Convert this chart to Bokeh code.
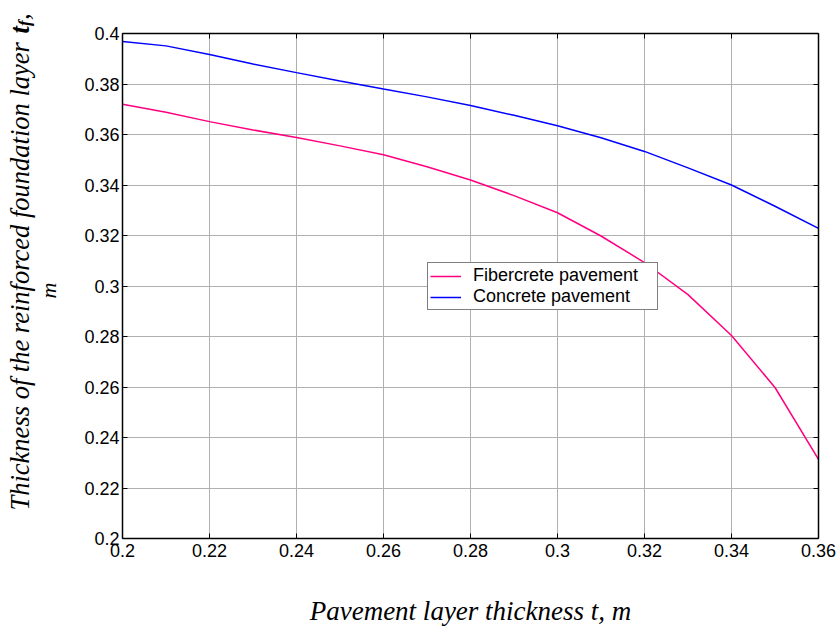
import math
from bokeh.plotting import figure
from bokeh.layouts import row, column
from bokeh.models import (FixedTicker, LinearAxis, Label, Legend, LegendItem,
                          Range1d)
from bokeh.embed import file_html
from bokeh.resources import INLINE

# ---- data ----
t_pavement = [0.20, 0.21, 0.22, 0.23, 0.24, 0.25, 0.26, 0.27, 0.28,
              0.29, 0.30, 0.31, 0.32, 0.33, 0.34, 0.35, 0.36]
fibercrete = [0.372, 0.3688, 0.3651, 0.3618, 0.3588, 0.3555, 0.352, 0.3472,
              0.342, 0.3358, 0.329, 0.3198, 0.3093, 0.2966, 0.2804, 0.2598,
              0.2313]
concrete = [0.3968, 0.3951, 0.3917, 0.3879, 0.3845, 0.3812, 0.378, 0.3749,
            0.3715, 0.3676, 0.3635, 0.3587, 0.3533, 0.3468, 0.340, 0.3316,
            0.3228]

x_ticks = [0.20, 0.22, 0.24, 0.26, 0.28, 0.30, 0.32, 0.34, 0.36]
x_tick_labels = ["0.2", "0.22", "0.24", "0.26", "0.28", "0.3", "0.32", "0.34", "0.36"]
y_ticks = [0.20, 0.22, 0.24, 0.26, 0.28, 0.30, 0.32, 0.34, 0.36, 0.38, 0.40]
y_tick_labels = ["0.2", "0.22", "0.24", "0.26", "0.28", "0.3", "0.32", "0.34",
                 "0.36", "0.38", "0.4"]

series_names = ["Fibercrete pavement", "Concrete pavement"]
series_colors = ["#ff0080", "#0000ff"]

x_label_text = "Pavement layer thickness t, m"
y_label_main = "Thickness of the reinforced foundation layer "
y_label_var = "t"
y_label_sub = "f"
y_label_comma = ","
y_label_unit = "m"

W, H = 837, 626
LW = 70   # narrow figure on the left for the vertical title
BH = 40   # strip at the bottom for the horizontal title
PH = H - BH

p = figure(width=W - LW, height=PH, title=None,
           x_range=Range1d(0.2, 0.36), y_range=Range1d(0.2, 0.4),
           output_backend="svg", toolbar_location=None,
           min_border_left=122 - LW, min_border_right=19,
           min_border_top=33, min_border_bottom=PH - 538)
p.frame_align = False
p.outline_line_color = None
p.background_fill_color = "white"
p.border_fill_color = "white"

xt = FixedTicker(ticks=x_ticks)
yt = FixedTicker(ticks=y_ticks)

def style_axis(ax, ticker, overrides):
    ax.ticker = ticker
    ax.axis_line_color = "black"
    ax.axis_line_width = 1.5
    ax.major_tick_in = 5
    ax.major_tick_out = 0
    ax.major_tick_line_color = "black"
    ax.major_tick_line_width = 1
    ax.minor_tick_line_color = None
    ax.major_label_overrides = overrides
    ax.major_label_text_font = "Liberation Sans"
    ax.major_label_text_font_size = "18px"
    ax.major_label_text_color = "black"

style_axis(p.xaxis[0], xt, {v: s for v, s in zip(x_ticks, x_tick_labels)})
p.xaxis[0].major_label_standoff = 5
style_axis(p.yaxis[0], yt, {v: s for v, s in zip(y_ticks, y_tick_labels)})
p.yaxis[0].major_label_standoff = 3

top = LinearAxis()
style_axis(top, xt, {v: "" for v in x_ticks})
top.major_label_standoff = 0
p.add_layout(top, "above")
right = LinearAxis()
style_axis(right, yt, {v: "" for v in y_ticks})
right.major_label_standoff = 0
p.add_layout(right, "right")

p.xgrid.ticker = xt
p.ygrid.ticker = yt
for g in (p.xgrid[0], p.ygrid[0]):
    g.grid_line_color = "#b0b0b0"
    g.grid_line_width = 1

r1 = p.line(t_pavement, fibercrete, line_color=series_colors[0], line_width=1.5)
r2 = p.line(t_pavement, concrete, line_color=series_colors[1], line_width=1.5)

legend = Legend(items=[LegendItem(label=series_names[0], renderers=[r1]),
                       LegendItem(label=series_names[1], renderers=[r2])],
                location=(305, 228))
legend.label_text_font = "Liberation Sans"
legend.label_text_font_size = "18px"
legend.label_text_line_height = 1.0
legend.label_text_color = "black"
legend.glyph_width = 31
legend.glyph_height = 18
legend.label_height = 18
legend.label_width = 182
legend.label_standoff = 12
legend.padding = 2
legend.spacing = 0
legend.margin = 0
legend.border_line_color = "black"
legend.border_line_width = 1
legend.background_fill_color = "white"
legend.background_fill_alpha = 1
p.add_layout(legend)

def blank_fig(w, h):
    f = figure(width=w, height=h, title=None, x_axis_type=None, y_axis_type=None,
               output_backend="svg", toolbar_location=None, min_border=0,
               x_range=Range1d(0, 1), y_range=Range1d(0, 1))
    f.frame_align = False
    f.outline_line_color = None
    f.background_fill_color = "white"
    f.border_fill_color = "white"
    f.xgrid.visible = False
    f.ygrid.visible = False
    return f

# ---- left strip: rotated y-axis title ----
q = blank_fig(LW, PH)
ang = math.pi / 2
FS = 26.5

def vlabel(x, y_page, text, size, style, align="left"):
    q.add_layout(Label(x=x, y=PH - y_page, x_units="screen", y_units="screen",
                       text=text, angle=ang, text_font="Liberation Serif",
                       text_font_style=style, text_font_size=f"{size}px",
                       text_align=align, text_baseline="alphabetic",
                       text_color="black"))

vlabel(19, 510, y_label_main, FS, "italic")
vlabel(19, 33, y_label_var, FS, "bold italic")
vlabel(24, 25.5, y_label_sub, 17, "bold italic")
vlabel(19, 19.5, y_label_comma, FS, "italic")
vlabel(48, 290, y_label_unit, 22, "italic", align="center")

# ---- bottom strip: x-axis title ----
b = blank_fig(W, BH)
b.add_layout(Label(x=470, y=16, x_units="screen", y_units="screen",
                   text=x_label_text, text_font="Liberation Serif",
                   text_font_style="italic", text_font_size="27px",
                   text_align="center", text_baseline="alphabetic",
                   text_color="black"))

layout = column(row(q, p), b)
open("out.html", "w").write(file_html(layout, INLINE))
